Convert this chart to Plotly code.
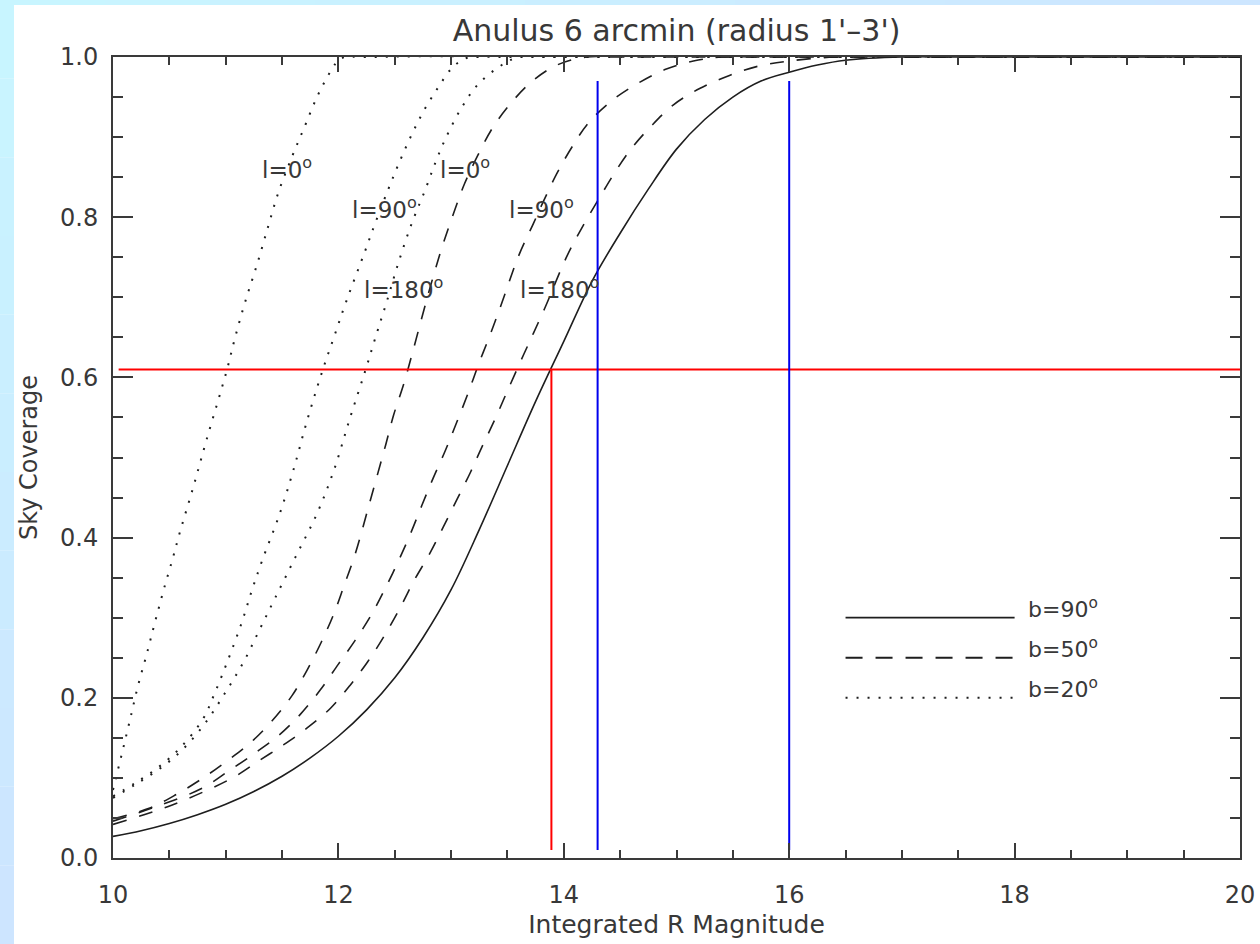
import plotly.graph_objects as go

# ---------------- data ----------------
# b=20 (dotted), l = 0, 90, 180
b20_l0_x = [10.0, 10.08, 10.15, 10.22, 10.30, 10.37, 10.45, 10.53, 10.59, 10.71, 10.83, 11.01, 11.08, 11.17,
            11.28, 11.38, 11.47, 11.59, 11.70, 11.82, 11.94, 12.02, 12.3, 20.0]
b20_l0_y = [0.085, 0.131, 0.172, 0.214, 0.255, 0.293, 0.335, 0.374, 0.405, 0.462, 0.522, 0.609, 0.648, 0.693,
            0.742, 0.79, 0.832, 0.876, 0.913, 0.953, 0.984, 0.998, 1.0, 1.0]

b20_l90_x = [10.0, 10.2, 10.4, 10.6, 10.8, 10.9, 11.02, 11.14, 11.23, 11.32, 11.48, 11.60, 11.72, 11.86, 11.96,
             12.07, 12.24, 12.32, 12.44, 12.53, 12.65, 12.77, 12.89, 13.0, 13.12, 13.25, 13.5, 20.0]
b20_l90_y = [0.077, 0.094, 0.113, 0.138, 0.174, 0.205, 0.247, 0.293, 0.333, 0.37, 0.43, 0.484, 0.545, 0.609,
             0.65, 0.695, 0.759, 0.79, 0.834, 0.865, 0.903, 0.936, 0.963, 0.985, 0.998, 1.0, 1.0, 1.0]

b20_l180_x = [10.0, 10.2, 10.4, 10.6, 10.8, 10.99, 11.16, 11.30, 11.44, 11.62, 11.81, 11.96, 12.10, 12.24,
              12.34, 12.43, 12.53, 12.65, 12.77, 12.86, 12.95, 13.09, 13.24, 13.45, 13.6, 13.85, 20.0]
b20_l180_y = [0.075, 0.092, 0.11, 0.133, 0.165, 0.205, 0.245, 0.285, 0.325, 0.376, 0.43, 0.484, 0.548, 0.609,
              0.655, 0.695, 0.742, 0.792, 0.834, 0.868, 0.898, 0.936, 0.966, 0.99, 1.0, 1.0, 1.0]

# b=50 (dashed)
b50_l0_x = [10.0, 10.32, 10.57, 10.79, 11.01, 11.22, 11.41, 11.59, 11.72, 11.85, 11.96, 12.05, 12.15, 12.28,
            12.42, 12.49, 12.58, 12.65, 12.77, 12.86, 12.93, 13.02, 13.12, 13.24, 13.37, 13.54, 13.73, 13.94,
            14.2, 14.5, 20.0]
b50_l0_y = [0.049, 0.062, 0.08, 0.099, 0.121, 0.144, 0.171, 0.203, 0.234, 0.27, 0.305, 0.34, 0.38, 0.445,
            0.516, 0.553, 0.592, 0.627, 0.69, 0.735, 0.767, 0.804, 0.842, 0.878, 0.912, 0.944, 0.971, 0.99,
            1.0, 1.0, 1.0]

b50_l90_x = [10.0, 10.4, 10.79, 11.02, 11.25, 11.47, 11.66, 11.84, 12.0, 12.15, 12.29, 12.41, 12.53, 12.64,
             12.74, 12.84, 12.95, 13.05, 13.15, 13.24, 13.34, 13.43, 13.6, 13.73, 13.82, 13.94, 14.07, 14.22,
             14.44, 14.68, 14.91, 15.15, 15.4, 15.8, 20.0]
b50_l90_y = [0.046, 0.065, 0.087, 0.108, 0.13, 0.153, 0.179, 0.21, 0.242, 0.272, 0.303, 0.335, 0.37, 0.405,
             0.44, 0.474, 0.509, 0.544, 0.58, 0.615, 0.651, 0.685, 0.752, 0.792, 0.82, 0.855, 0.887, 0.918,
             0.947, 0.969, 0.985, 0.995, 1.0, 1.0, 1.0]

b50_l180_x = [10.0, 10.52, 11.06, 11.28, 11.51, 11.72, 11.93, 12.10, 12.26, 12.41, 12.55, 12.67, 12.81, 12.93,
              13.05, 13.17, 13.27, 13.39, 13.49, 13.61, 13.73, 13.83, 14.03, 14.19, 14.32, 14.44, 14.59, 14.77,
              14.97, 15.21, 15.47, 15.71, 16.0, 16.4, 16.8, 20.0]
b50_l180_y = [0.042, 0.066, 0.1, 0.12, 0.141, 0.162, 0.187, 0.215, 0.245, 0.278, 0.313, 0.346, 0.38, 0.413,
              0.447, 0.481, 0.512, 0.548, 0.58, 0.618, 0.655, 0.686, 0.752, 0.794, 0.825, 0.853, 0.884, 0.913,
              0.94, 0.961, 0.977, 0.988, 0.995, 1.0, 1.0, 1.0]

# b=90 (solid)
b90_x = [10.0, 10.25, 10.5, 10.75, 11.0, 11.25, 11.5, 11.75, 12.0, 12.25, 12.5, 12.75, 13.0, 13.25, 13.5,
         13.75, 14.0, 14.25, 14.5, 14.75, 15.0, 15.25, 15.5, 15.75, 16.0, 16.25, 16.5, 17.0, 17.5, 20.0]
b90_y = [0.027, 0.034, 0.043, 0.054, 0.067, 0.083, 0.102, 0.125, 0.152, 0.185, 0.225, 0.275, 0.335, 0.41, 0.49,
         0.57, 0.645, 0.72, 0.78, 0.835, 0.885, 0.922, 0.95, 0.97, 0.981, 0.99, 0.996, 1.0, 1.0, 1.0]

# reference (marker) lines
coverage_level = 0.61
coverage_x_range = [10.05, 20.0]
red_mag = 13.89
blue_mags = [14.3, 16.0]
vline_bottom = 0.01
blue_top = 0.97

# curve labels
label_text = ["l=0<sup>o</sup>", "l=90<sup>o</sup>", "l=180<sup>o</sup>",
              "l=0<sup>o</sup>", "l=90<sup>o</sup>", "l=180<sup>o</sup>"]
label_x = [11.30, 12.10, 12.21, 12.88, 13.50, 13.59]
label_y = [0.861, 0.811, 0.712, 0.861, 0.811, 0.712]

# legend
legend_text = ["b=90<sup>o</sup>", "b=50<sup>o</sup>", "b=20<sup>o</sup>"]
legend_y = [0.30, 0.25, 0.20]
legend_x = [16.5, 18.0]
legend_text_x = 18.1

# ---------------- styling ----------------
INK = "#1e1e1e"
AXC = "#3a3a3a"
TXT = "#383838"
FONT = "DejaVu Sans"
DASH = "14px,13px"
DOT = "2px,9px"

fig = go.Figure()

def curve(x, y, dash, width):
    fig.add_trace(go.Scatter(x=x, y=y, mode="lines", line=dict(color=INK, width=width, dash=dash,
                             shape="spline", smoothing=1.0), showlegend=False, hoverinfo="skip"))

for xs, ys in [(b20_l0_x, b20_l0_y), (b20_l90_x, b20_l90_y), (b20_l180_x, b20_l180_y)]:
    curve(xs, ys, DOT, 2.0)
for xs, ys in [(b50_l0_x, b50_l0_y), (b50_l90_x, b50_l90_y), (b50_l180_x, b50_l180_y)]:
    curve(xs, ys, DASH, 1.6)
curve(b90_x, b90_y, "solid", 1.6)

# red & blue guide lines
fig.add_trace(go.Scatter(x=coverage_x_range, y=[coverage_level, coverage_level], mode="lines",
                         line=dict(color="#ff0000", width=2), showlegend=False, hoverinfo="skip"))
fig.add_trace(go.Scatter(x=[red_mag, red_mag], y=[vline_bottom, coverage_level], mode="lines",
                         line=dict(color="#ff0000", width=2), showlegend=False, hoverinfo="skip"))
for bm in blue_mags:
    fig.add_trace(go.Scatter(x=[bm, bm], y=[vline_bottom, blue_top], mode="lines",
                             line=dict(color="#0000ee", width=2), showlegend=False, hoverinfo="skip"))

# legend samples
for ly, dash, w in zip(legend_y, ["solid", "17px,13px", DOT], [1.8, 1.8, 2.0]):
    fig.add_trace(go.Scatter(x=legend_x, y=[ly, ly], mode="lines",
                             line=dict(color=INK, width=w, dash=dash), showlegend=False, hoverinfo="skip"))

annotations = []
for t, x, y in zip(label_text, label_x, label_y):
    annotations.append(dict(x=x, y=y, xref="x", yref="y", text=t, showarrow=False, xanchor="left",
                            yanchor="middle", font=dict(family=FONT, size=23, color=TXT)))
for t, y in zip(legend_text, legend_y):
    annotations.append(dict(x=legend_text_x, y=y + 0.012, xref="x", yref="y", text=t, showarrow=False,
                            xanchor="left", yanchor="middle", font=dict(family=FONT, size=22, color=TXT)))

# light-blue page border bands (gradient approximated)
L, T, W, H = 113, 57, 1127, 801
def px2paper(px, py):
    return (px - L) / W, (T + H - py) / H

shapes = []
n = 12
def lerp(c1, c2, t):
    return "rgb(%d,%d,%d)" % tuple(round(a + (b - a) * t) for a, b in zip(c1, c2))
c_tl, c_bl, c_tr = (200, 246, 255), (205, 228, 255), (205, 229, 255)
for i in range(n):
    y0p, y1p = 944 * i / n, 944 * (i + 1) / n
    x0, ya = px2paper(0, y0p)
    x1, yb = px2paper(14, y1p)
    shapes.append(dict(type="rect", xref="paper", yref="paper", x0=x0, x1=x1, y0=yb, y1=ya,
                       fillcolor=lerp(c_tl, c_bl, (i + 0.5) / n), line=dict(width=0), layer="below"))
for i in range(n):
    x0p, x1p = 1260 * i / n, 1260 * (i + 1) / n
    x0, ya = px2paper(x0p, 0)
    x1, yb = px2paper(x1p, 5)
    shapes.append(dict(type="rect", xref="paper", yref="paper", x0=x0, x1=x1, y0=yb, y1=ya,
                       fillcolor=lerp(c_tl, c_tr, (i + 0.5) / n), line=dict(width=0), layer="below"))

axis_common = dict(showline=True, linecolor=AXC, linewidth=2, mirror="ticks", ticks="inside",
                   tickcolor=AXC, tickwidth=2, showgrid=False, zeroline=False,
                   tickfont=dict(family=FONT, size=24, color=TXT))

fig.update_layout(
    width=1260, height=944,
    margin=dict(l=L, r=1260 - L - W, t=T, b=944 - T - H, autoexpand=False),
    paper_bgcolor="white", plot_bgcolor="white",
    hovermode=False,
    title=dict(text="Anulus 6 arcmin (radius 1'\u20133')", x=0.5, xref="paper", xanchor="center",
               y=1 - 30 / 944, yanchor="middle", font=dict(family=FONT, size=30, color=TXT)),
    xaxis=dict(range=[10, 20], tick0=10, dtick=2, ticklen=15, ticklabelstandoff=14,
               minor=dict(dtick=0.5, ticklen=8, tickwidth=1.5, tickcolor=AXC, ticks="inside"),
               title=dict(text="Integrated R Magnitude", standoff=8,
                          font=dict(family=FONT, size=25, color=TXT)),
               automargin=False, **axis_common),
    yaxis=dict(range=[0, 1], tick0=0, dtick=0.2, tickformat=".1f", ticklen=20, ticklabelstandoff=8,
               minor=dict(dtick=0.05, ticklen=10, tickwidth=1.5, tickcolor=AXC, ticks="inside"),
               title=dict(text="Sky Coverage", standoff=16,
                          font=dict(family=FONT, size=24, color=TXT)),
               automargin=False, **axis_common),
    annotations=annotations,
    shapes=shapes,
)

fig.write_html("out.html")
